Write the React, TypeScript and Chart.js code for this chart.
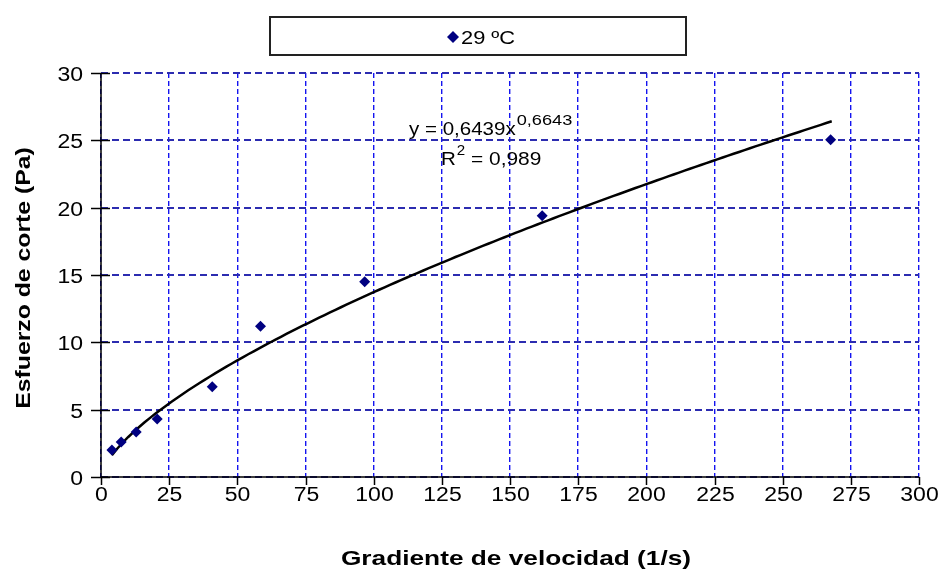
import React, { useEffect, useRef } from "react";
import { Chart, registerables } from "chart.js";

Chart.register(...registerables);

// Measured shear rate (1/s) and shear stress (Pa) at 29 ºC
const shearRate = [4.0, 7.4, 12.9, 20.6, 40.8, 58.5, 96.7, 161.8, 267.6];
const shearStress = [2.0, 2.6, 3.35, 4.3, 6.7, 11.2, 14.5, 19.4, 25.05];

// Power-law fit shown on the chart: y = a * x^b
const fitA = 0.6439;
const fitB = 0.6643;
const fitR2 = "0,989";
const fitFrom = 4;
const fitTo = 268;

const seriesLabel = "29 ºC";
const xTitle = "Gradiente de velocidad (1/s)";
const yTitle = "Esfuerzo de corte (Pa)";
const xTicks = [0, 25, 50, 75, 100, 125, 150, 175, 200, 225, 250, 275, 300];
const yTicks = [0, 5, 10, 15, 20, 25, 30];

const FONT = '"Liberation Sans", Arial, sans-serif';

function fitCurve() {
  const pts: { x: number; y: number }[] = [];
  for (let x = fitFrom; x <= fitTo; x += 2) {
    pts.push({ x, y: fitA * Math.pow(x, fitB) });
  }
  return pts;
}

function drawStretched(
  ctx: CanvasRenderingContext2D,
  text: string,
  x: number,
  y: number,
  font: string,
  sx: number,
  align: CanvasTextAlign = "left",
  baseline: CanvasTextBaseline = "alphabetic"
) {
  ctx.save();
  ctx.translate(x, y);
  ctx.scale(sx, 1);
  ctx.font = font;
  ctx.textAlign = align;
  ctx.textBaseline = baseline;
  ctx.fillText(text, 0, 0);
  const w = ctx.measureText(text).width * sx;
  ctx.restore();
  return w;
}

const decor = {
  id: "decor",
  afterDraw(chart: any) {
    const { ctx, chartArea: a, scales } = chart;
    const xs = scales.x;
    const ys = scales.y;
    ctx.save();
    ctx.fillStyle = "#000";
    ctx.strokeStyle = "#000";
    ctx.lineWidth = 1.5;

    // axis lines
    ctx.beginPath();
    ctx.moveTo(a.left, a.top);
    ctx.lineTo(a.left, a.bottom);
    ctx.lineTo(a.right, a.bottom);
    ctx.stroke();

    // tick marks and labels
    const tickFont = `20px ${FONT}`;
    for (const v of yTicks) {
      const py = Math.round(ys.getPixelForValue(v)) + 0.5;
      ctx.beginPath();
      ctx.moveTo(a.left - 10, py);
      ctx.lineTo(a.left + 9, py);
      ctx.stroke();
      drawStretched(ctx, String(v), 83, py + 7, tickFont, 1.15, "right");
    }
    for (const v of xTicks) {
      const px = Math.round(xs.getPixelForValue(v)) + 0.5;
      ctx.beginPath();
      ctx.moveTo(px, a.bottom);
      ctx.lineTo(px, a.bottom + 8);
      ctx.stroke();
      drawStretched(ctx, String(v), px, 501, tickFont, 1.15, "center");
    }

    // axis titles
    const titleFont = `bold 21px ${FONT}`;
    drawStretched(ctx, xTitle, 516, 565, titleFont, 1.25, "center");
    ctx.save();
    ctx.translate(24, 278);
    ctx.rotate(-Math.PI / 2);
    drawStretched(ctx, yTitle, 0, 0, titleFont, 1.18, "center", "middle");
    ctx.restore();

    // legend box
    ctx.lineWidth = 2;
    ctx.strokeStyle = "#222";
    ctx.fillStyle = "#fff";
    ctx.fillRect(270, 17, 416, 38);
    ctx.strokeRect(270, 17, 416, 38);
    ctx.fillStyle = "#000080";
    ctx.beginPath();
    ctx.moveTo(453, 31);
    ctx.lineTo(459, 37);
    ctx.lineTo(453, 43);
    ctx.lineTo(447, 37);
    ctx.closePath();
    ctx.fill();
    ctx.fillStyle = "#000";
    drawStretched(ctx, seriesLabel, 461, 44, `19px ${FONT}`, 1.15, "left");

    // fit equation
    const eqFont = `19px ${FONT}`;
    const supFont = `14px ${FONT}`;
    let ex = 409;
    ex += drawStretched(ctx, `y = ${String(fitA).replace(".", ",")}x`, ex, 135, eqFont, 1.08);
    drawStretched(ctx, String(fitB).replace(".", ","), ex + 1, 125, supFont, 1.3);
    let rx = 441;
    rx += drawStretched(ctx, "R", rx, 165, eqFont, 1.08);
    rx += drawStretched(ctx, "2", rx + 1, 155, supFont, 1.08);
    drawStretched(ctx, ` = ${fitR2}`, rx + 1, 165, eqFont, 1.1);

    ctx.restore();
  },
};

export default function App() {
  const ref = useRef<HTMLCanvasElement>(null);

  useEffect(() => {
    if (!ref.current) return;
    const chart = new Chart(ref.current, {
      type: "scatter",
      data: {
        datasets: [
          {
            label: seriesLabel,
            data: shearRate.map((x, i) => ({ x, y: shearStress[i] })),
            pointStyle: "rectRot",
            pointRadius: 5.5,
            pointHoverRadius: 5.5,
            backgroundColor: "#000080",
            borderColor: "#000080",
            borderWidth: 0,
            order: 0,
          },
          {
            type: "line",
            label: "Potencial",
            data: fitCurve(),
            borderColor: "#000",
            borderWidth: 2.5,
            pointRadius: 0,
            fill: false,
            tension: 0,
            order: 1,
          } as any,
        ],
      },
      options: {
        animation: false,
        responsive: true,
        maintainAspectRatio: false,
        layout: { padding: { top: 73, right: 22, left: 0, bottom: 0 } },
        plugins: {
          legend: { display: false },
          tooltip: { enabled: false },
        },
        scales: {
          x: {
            type: "linear",
            min: 0,
            max: 300,
            ticks: { stepSize: 25, display: false },
            grid: { color: "#1414f0", lineWidth: 1.4, drawTicks: false },
            border: { display: false, dash: [5, 3] },
            afterFit: (s: any) => {
              s.height = 96;
            },
          },
          y: {
            type: "linear",
            min: 0,
            max: 30,
            ticks: { stepSize: 5, display: false },
            grid: { color: "#2c2cb0", lineWidth: 2, drawTicks: false },
            border: { display: false, dash: [7, 4] },
            afterFit: (s: any) => {
              s.width = 101;
            },
          },
        },
      },
      plugins: [decor],
    });
    return () => chart.destroy();
  }, []);

  return (
    <div
      style={{
        position: "absolute",
        left: 0,
        top: 0,
        width: 941,
        height: 573,
        background: "#fff",
      }}
    >
      <canvas ref={ref} />
    </div>
  );
}
